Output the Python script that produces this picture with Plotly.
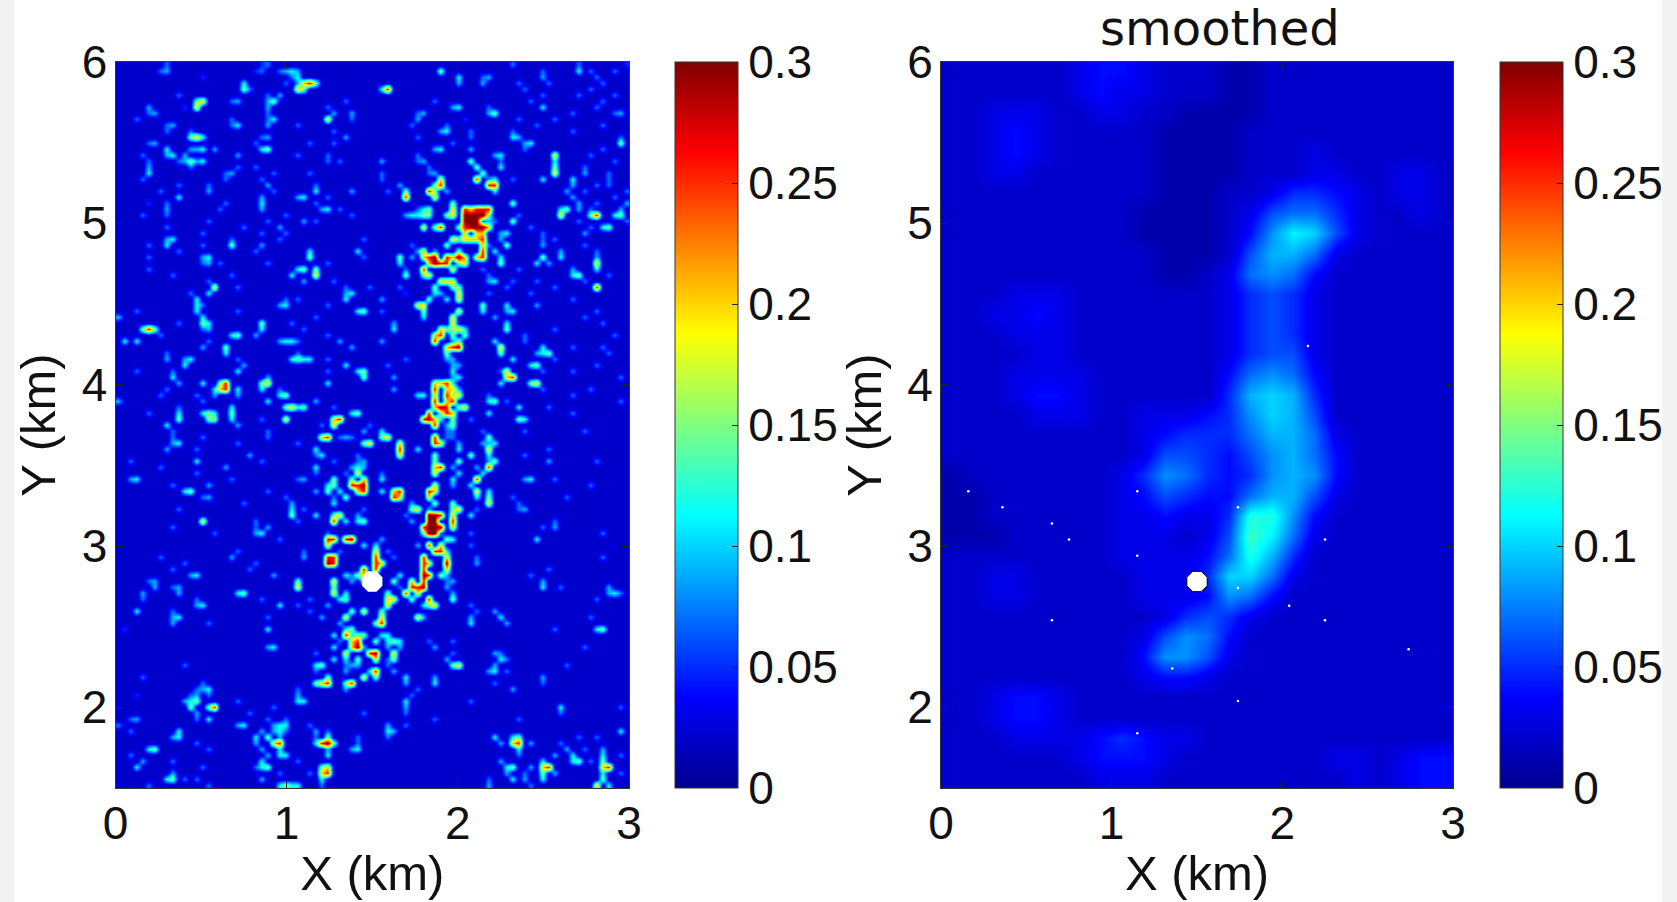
import plotly.graph_objects as go

W, H = 1677, 902
X_TICKS = [0, 1, 2, 3]
Y_TICKS = [2, 3, 4, 5, 6]
CB_TICKS = [0, 0.05, 0.1, 0.15, 0.2, 0.25, 0.3]
CB_LABELS = ["0", "0.05", "0.1", "0.15", "0.2", "0.25", "0.3"]
SOURCE_X = [1.5]
SOURCE_Y = [2.78]
DOTS_X = [.16, .36, .65, .75, 1.15, 1.15, .65, 1.355, 1.74, 1.74, 1.74, 1.15, 2.04, 2.25, 2.25, 2.15, 2.74]
DOTS_Y = [3.34, 3.24, 3.14, 3.04, 3.34, 2.94, 2.54, 2.24, 3.24, 2.74, 2.04, 1.84, 2.63, 3.04, 2.54, 4.24, 2.36]
JET = [[0, "rgb(0,0,143)"], [.125, "rgb(0,0,255)"], [.375, "rgb(0,255,255)"],
       [.625, "rgb(255,255,0)"], [.875, "rgb(255,0,0)"], [1, "rgb(128,0,0)"]]

# Left panel, read by eye: grid of 86 x 121 cells. Each entry is row -> "column:levels",
# the levels (0-9) running rightwards from that column; LEVEL_VALUES gives each level's value.
GRID_COLS, GRID_ROWS = 86, 121
BASE_VALUE = 0.02
LEVEL_VALUES = [0.02, 0.04, 0.05, 0.07, 0.09, 0.115, 0.15, 0.2, 0.26, 0.3]
SPECKS = {
0: "8:3 24:23 66:3 77:3 85:2",
1: "7:34 23:23 27:3454 54:6 71:3 77:5 79:3 83:3",
2: "14:2 29:35 57:5 61:34 71:4 80:3",
3: "21:5 28:3 30:4786 57:4 61:4 67:3 72:3 81:3",
4: "21:63 30:76 44:58 68:3 79:3",
5: "10:3 25:3 27:4 71:3 77:3 83:3",
6: "13:67 19:34 25:46 38:3 53:3 69:3 81:3",
7: "5:4 11:2 13:7 25:4 35:3 56:45 62:3 71:5 80:3",
8: "5:34 25:3 36:4 39:4 50:34 62:46 76:3 83:34",
9: "3:3 19:3 25:35 35:7 39:3 50:4 58:2 67:3 73:3",
10: "8:34 19:35 25:4 30:3 49:3 55:3 70:3 81:3",
11: "8:3 12:3 36:3 54:45 59:3 66:3 76:3",
12: "12:675 24:34 38:4 50:3 59:3 66:54 84:3",
13: "5:34 23:3 32:3 36:3 56:3 68:45 84:6",
14: "8:5 12:445 16:4 24:56 53:45 59:4 68:3 81:3",
15: "4:3 8:45 11:4 20:4 30:3 35:3 50:3 63:45 73:7 79:3",
16: "5:3 10:34 12:645 35:3 37:3 44:4 50:34 59:6 64:3 73:5 83:3",
17: "5:4 12:3 20:3 23:3 52:3 60:6 64:5 73:6 78:3",
18: "5:5 18:34 26:3 32:3 44:3 52:34 61:6 73:7 78:4 82:3",
19: "4:3 18:3 24:3 44:3 54:7 60:8 62:45 66:3 71:5 76:5 82:3",
20: "10:3 15:3 25:4 33:3 47:4 53:68 62:88 76:4 80:3 82:3",
21: "7:3 15:4 26:3 33:5 39:4 45:3 48:6 52:86 55:4 63:5 75:4 78:3 85:3",
22: "10:5 24:4 30:45 35:3 48:8 53:7 76:4 83:3",
23: "5:2 8:3 18:3 24:5 33:3 56:6 66:6 77:4 80:3 85:4",
24: "8:4 17:3 24:4 34:45 37:3 50:3 51:56 56:7 58:8788 62:8 74:56 77:4 79:3 84:4",
25: "4:3 8:3 28:3 39:3 48:45 50:566 55:67 58:9999 62:6 67:3 74:7 79:68 83:56",
26: "15:3 25:3 31:4 33:3 58:9999 61:343 66:6 77:3 85:3",
27: "8:3 21:3 27:4 51:7 53:68 57:68999 62:7 69:3 79:3 81:56",
28: "14:3 24:3 28:3 58:7 60:77 64:45 71:3 78:4",
29: "8:45 19:3 27:3 41:3 56:767 59:77 61:8 64:4 71:3 73:3",
30: "5:3 8:5 14:3 19:6 24:4 49:3 55:6 61:7 62:3 65:6 71:4 78:3",
31: "10:3 23:3 32:5 40:5 50:4 51:7 53:4 57:6 61:8 63:5 74:4 80:3",
32: "5:3 14:45 32:6 41:3 47:6 49:4 51:789 55:879 58:7 60:78 64:5 71:6 74:5 80:4",
33: "14:34 17:3 25:3 35:3 47:5 52:798 55:8 57:67 64:6 70:5 72:4 80:7",
34: "5:3 30:56 33:6 48:3 51:8 56:7 61:3 67:3 76:4 80:5",
35: "9:3 19:3 29:5 33:7 48:6 51:67 62:3 76:56 82:3",
36: "15:3 31:4 36:3 54:777 62:45 66:3 70:3 78:3",
37: "16:7 20:3 38:3 42:3 47:3 53:6 56:66 65:3 73:3 80:8",
38: "12:3 15:5 38:45 48:2 53:54 57:7 62:3 69:3",
39: "13:5 28:3 30:3 38:5 44:4 52:6 55:5 57:7 76:3",
40: "13:5 14:3 27:45 35:3 50:77 61:6 65:5 70:4",
41: "3:3 13:5 20:3 40:56 44:3 51:6 57:7 61:5 65:45 80:3",
42: "0:4 14:5 33:3 51:5 56:7 63:4 78:3",
43: "10:3 14:65 24:6 29:3 46:4 56:7 65:5 81:3",
44: "4:686 14:34 24:5 31:3 46:5 54:76 56:675 65:6 73:3",
45: "7:3 19:56 23:4 35:3 53:78 56:6 58:6 68:3 83:3",
46: "1:5 3:5 15:3 27:4553 37:4 44:4 53:8 56:46 63:5 68:3",
47: "14:4 18:6 39:4 55:789 64:7 71:5 76:3 81:3",
48: "8:3 18:5 30:3 55:6 64:6 70:456 82:3",
49: "8:4 11:45 20:3 29:5655 35:3 48:3 55:44 66:5 73:3",
50: "11:5 21:4 38:5 45:3 56:44 69:56 80:3",
51: "3:3 9:3 20:5 35:3 40:56 56:5 64:3 65:7 71:3 76:3",
52: "9:5 25:4 41:6 46:4 56:45 65:78 84:3",
53: "10:4 14:5 17:68 24:67 35:5 53:778 56:5 64:5 69:67",
54: "8:3 16:578 20:5 24:5 27:3 46:4 53:8 55:77 57:4 71:3 79:3",
55: "7:3 13:3 16:4 20:4 27:56 50:55 53:7 55:867 62:3 76:3",
56: "0:4 14:3 25:5 33:4 53:8 55:78 62:56 65:3 84:3",
57: "10:3 19:5 28:67 30:56 36:3 53:79 55:8 57:67 67:5 72:3",
58: "5:3 10:5 14:565 19:6 39:56 52:8 54:68 56:7 62:5 76:3",
59: "10:6 15:66 19:5 24:3 28:7 36:78 51:89 53:75 56:6 59:3 67:65",
60: "8:5 20:4 34:3 36:7 42:3 53:8 55:46",
61: "9:3 25:3 41:4 44:5 55:33 61:3 68:3 78:3",
62: "9:3 14:3 25:3 34:78 37:343 44:67 53:8 55:33 62:6",
63: "9:45 20:3 30:3 41:67 47:7 53:87 57:4 61:4 62:45",
64: "8:4 13:3 33:5 47:8 50:5 57:5 62:7 72:3",
65: "22:4 33:35 40:3 47:7 53:6 59:6 62:5 68:3",
66: "2:3 13:5 24:3 36:3 40:34 53:6 57:6 62:46 72:4 80:3",
67: "7:3 18:4 33:5 39:45 41:4 53:78 56:4 60:4 62:8",
68: "13:3 33:3 38:3 40:7 44:3 53:7 57:5 61:5",
69: "2:45 19:3 30:34 36:6 39:6 41:7 44:5 56:5 60:8 68:45 73:3",
70: "9:3 15:4 35:56 39:889 53:7 56:4 59:5 79:3",
71: "11:56 25:3 33:4 35:6 37:5 40:78 44:5 46:78 52:87 60:7 62:5",
72: "14:34 28:3 36:3 38:6 46:87 52:7 60:5 62:6 66:3 75:3",
73: "21:3 29:4 36:5 49:4 53:6 56:6 62:7 67:3",
74: "10:3 29:5 31:3 41:3 49:67 52:4 56:67 60:3 67:34",
75: "29:6 33:5 36:67 40:4 48:3 52:998 56:7 59:5",
76: "14:7 23:3 30:3 36:8 38:5 40:56 49:4 52:99 56:8 73:3",
77: "9:3 23:3 25:4 51:8999 56:7 71:3 73:4",
78: "16:3 23:45 35:3 51:699 54:3 59:3 81:3",
79: "27:3 35:88 38:89 44:4 55:6 56:5 70:5",
80: "35:7 41:5 43:5 50:4 52:8 54:7 59:3",
81: "20:3 31:3 37:3 43:7 45:3 53:885",
82: "7:3 19:4 31:4 35:88 43:8 46:3 51:8 55:7 60:3 81:3",
83: "11:3 23:3 35:98 43:87 51:87 55:9 60:4",
84: "9:3 22:3 41:8 43:8 51:8 55:7 72:3",
85: "12:45 26:4 38:53 40:67 47:5 51:98 54:64 69:3",
86: "5:34 30:6 36:7 39:4 41:67 46:6 49:7 51:8 55:34 71:4",
87: "6:4 9:34 30:7 36:6 47:3 49:889 55:4 71:5 74:3 82:4",
88: "4:4 10:4 20:56 36:7 38:5 45:6 48:8 50:7 56:4 82:45 84:3",
89: "4:3 13:3 24:3 32:3 37:56 45:77 49:6 52:8 56:6 80:3",
90: "13:45 27:5 30:3 35:4 45:7 51:567 59:3",
91: "3:5 9:3 32:3 39:6 41:7 44:6 60:3 63:4",
92: "9:45 25:3 34:4 38:7 44:7 50:74 59:4 64:5 79:3",
93: "9:4 15:3 37:4 43:68 59:5 65:4",
94: "1:2 25:5 38:56 73:3 80:56",
95: "36:5 38:856 41:6 44:55",
96: "37:3 39:78 43:6 45:565 52:3 56:3",
97: "25:45 36:5 39:79 41:4 45:4 47:4 53:4 78:3",
98: "33:3 38:7 42:8 43:9 46:7 56:3 63:4 64:3",
99: "36:5 38:5 40:6 43:7 45:36 55:4 64:5 65:3",
100: "11:3 33:56 38:34 40:4 45:3 56:67 63:4 75:3",
101: "33:3 38:4 42:58 46:4 62:45 65:3",
102: "4:3 35:6 41:7 43:6 48:5 53:4 71:4",
103: "14:3 33:678 38:68 48:4 53:5 63:3 71:3",
104: "13:345 30:3 38:4 50:3 66:4",
105: "3:2 12:34 15:3 30:4 49:3",
106: "11:456 20:3 30:55 48:5 59:3",
107: "12:6 15:68 26:3 48:4 74:5 84:3",
108: "13:4 22:3 41:3 48:3 74:3",
109: "2:34 13:3 15:5 25:3 28:3 53:3 67:3",
110: "0:3 20:45 26:455 32:3 45:4 48:3",
111: "2:3 10:5 24:4 26:45 28:3 33:4 35:3 45:54 84:5",
112: "9:45 23:5 25:6 27:4 33:3 35:6 40:3 45:3 63:5 66:56 77:3 80:3",
113: "13:3 23:4 26:78 33:589 36:6 40:3 64:4 66:78 69:4 74:3",
114: "5:56 15:3 24:4 27:5 35:4 39:45 67:5 75:4 78:3 81:4",
115: "2:3 25:4 27:55 35:5 67:3 73:4 76:5 81:5 84:3",
116: "4:4 9:3 24:5 30:3 64:4 71:5 76:56 79:3 81:6",
117: "3:5 14:3 23:356 34:67 65:56 69:4 71:78 81:78",
118: "9:4 27:3 32:3 34:78 65:4 68:3 71:6 73:4 81:5 84:3",
119: "8:56 11:3 13:3 24:4 34:5 62:3 66:5 68:4 71:5 81:6",
120: "5:3 15:3 27:5655 34:3 62:4 69:3 80:7 82:5",
}

# Right panel: estimated value in hundredths per cell, top row first, 24 columns
SMOOTH_ROWS = [
[2,2,2,2,2,2,3,4,4,3,2,2,2,1,1,2,2,2,2,2,2,2,2,2],
[2,2,2,2,2,2,3,4,3,3,2,2,2,1,1,2,2,2,2,2,2,2,2,2],
[2,2,3,3,3,2,2,3,3,2,2,1,1,1,1,2,2,2,2,2,2,2,2,2],
[2,2,3,4,3,2,2,2,2,2,1,1,1,1,2,2,2,2,2,2,2,2,2,2],
[2,2,3,4,3,2,2,2,2,2,1,1,1,1,2,2,2,3,2,2,2,2,2,2],
[2,2,3,3,2,2,2,2,2,2,1,1,1,1,2,2,2,3,3,2,2,3,3,2],
[2,2,2,2,2,2,2,2,2,2,1,1,1,2,2,3,5,5,4,3,2,3,3,2],
[2,2,2,2,2,2,2,2,2,1,1,1,1,2,3,6,7,7,5,3,2,2,3,2],
[2,2,2,2,2,2,2,2,2,1,1,1,1,2,4,8,11,10,6,3,2,2,2,2],
[2,2,2,2,2,2,2,2,2,2,1,1,1,2,6,9,9,7,3,2,2,2,2,2],
[2,2,2,2,2,2,2,2,2,2,1,1,2,3,7,8,7,4,2,2,2,2,2,2],
[2,2,2,3,3,3,2,2,2,2,2,2,2,3,5,6,5,3,2,2,2,2,2,2],
[2,2,3,3,4,3,2,2,2,2,2,2,2,3,5,6,5,3,2,2,2,2,2,2],
[2,2,2,3,3,3,2,2,2,2,2,2,2,3,5,6,5,3,2,2,2,2,2,2],
[2,2,2,2,3,3,2,2,2,2,2,2,2,3,5,6,6,3,2,2,2,2,2,2],
[2,2,2,3,3,3,3,2,2,2,2,2,2,4,7,8,7,4,2,2,2,2,2,2],
[2,2,2,3,4,4,3,2,2,2,2,2,2,5,9,10,9,5,2,2,2,2,2,2],
[2,2,2,2,3,3,3,2,2,3,3,3,4,5,8,10,9,6,2,2,2,2,2,2],
[2,2,2,2,2,2,2,2,2,3,4,5,5,5,7,9,9,7,3,2,2,2,2,2],
[2,2,2,2,2,2,2,2,2,3,6,6,5,4,6,8,9,7,4,2,2,2,2,2],
[1,2,2,2,2,2,2,2,3,5,8,7,5,4,5,8,9,8,4,2,2,2,2,2],
[1,1,2,2,2,2,2,2,3,4,6,5,4,4,7,9,9,6,3,2,2,2,2,2],
[1,1,2,2,2,2,2,2,3,3,4,3,3,5,12,12,8,4,2,2,2,2,2,2],
[1,1,1,2,2,2,2,2,3,3,3,2,3,6,13,11,7,3,2,2,2,2,2,2],
[2,2,2,2,2,2,2,2,3,3,3,3,4,7,12,9,5,2,2,2,2,2,2,2],
[2,2,3,3,2,2,2,2,2,3,3,3,5,10,10,7,3,2,2,2,2,2,2,2],
[2,2,3,3,2,2,2,2,2,3,3,3,4,8,7,4,2,2,2,2,2,2,2,2],
[2,2,2,2,2,2,2,2,2,2,3,5,6,5,3,2,2,2,2,2,2,2,2,2],
[2,2,2,2,2,2,2,2,2,3,6,8,7,4,2,2,2,2,2,2,2,2,2,2],
[2,2,2,2,2,2,2,2,2,4,8,8,6,3,2,2,2,2,2,2,2,2,2,2],
[2,2,2,2,2,2,2,2,2,3,4,4,3,2,2,2,2,2,2,2,2,2,2,2],
[2,2,3,4,4,3,2,2,2,2,2,2,2,2,2,2,2,2,2,2,2,2,2,2],
[2,2,3,4,4,3,2,2,2,2,2,2,2,2,2,2,2,2,2,2,2,2,2,2],
[2,2,2,3,3,3,3,4,5,4,3,3,2,2,2,2,2,2,2,2,2,2,2,2],
[2,2,2,2,2,2,3,4,4,4,3,2,2,2,2,2,2,2,3,3,2,3,4,4],
[2,2,2,2,2,2,2,3,3,3,2,2,2,2,2,2,2,2,2,3,2,3,4,4],
]

z_left = [[BASE_VALUE] * GRID_COLS for _ in range(GRID_ROWS)]
for row, entry in SPECKS.items():
    for token in entry.split():
        col, levels = token.split(":")
        for k, ch in enumerate(levels):
            z_left[row][int(col) + k] = LEVEL_VALUES[int(ch)]
x_left = [(i + .5) * 3 / GRID_COLS for i in range(GRID_COLS)]
y_left = [6 - (j + .5) * 4.5 / GRID_ROWS for j in range(GRID_ROWS)]

z_right = [[v / 100 for v in r] for r in SMOOTH_ROWS]
n_r, m_r = len(z_right), len(z_right[0])
x_right = [(i + .5) * 3 / m_r for i in range(m_r)]
y_right = [6 - (j + .5) * 4.5 / n_r for j in range(n_r)]

FONT = "Liberation Sans, Arial, sans-serif"
TICK_FONT = dict(family=FONT, size=46, color="#111")
TOP, BOTTOM = 62, 788
LEFT_DOM = (115.5, 629)
RIGHT_DOM = (941, 1453)
CB_L = 675
CB_R = 1500
CB_TH = 63


def colorbar(x_px):
    return dict(
        x=x_px / W, xanchor="left", xref="paper", y=1 - BOTTOM / H, yanchor="bottom", yref="paper",
        len=(BOTTOM - TOP) / H, lenmode="fraction", thickness=CB_TH, thicknessmode="pixels",
        xpad=0, ypad=0, tickvals=CB_TICKS, ticktext=CB_LABELS, ticks="inside", ticklen=6,
        tickcolor="#222", tickfont=TICK_FONT, outlinecolor="#333", outlinewidth=1,
    )


fig = go.Figure()
fig.add_trace(go.Heatmap(x=x_left, y=y_left, z=z_left, zmin=0, zmax=.3, colorscale=JET, zsmooth="best",
                         colorbar=colorbar(CB_L), xaxis="x", yaxis="y", hoverinfo="skip"))
fig.add_trace(go.Heatmap(x=x_right, y=y_right, z=z_right, zmin=0, zmax=.3, colorscale=JET, zsmooth="best",
                         colorbar=colorbar(CB_R), xaxis="x2", yaxis="y2", hoverinfo="skip"))
fig.add_trace(go.Scatter(x=SOURCE_X, y=SOURCE_Y, mode="markers", xaxis="x", yaxis="y", showlegend=False,
                         marker=dict(symbol="octagon", size=22, color="white", line=dict(width=0))))
fig.add_trace(go.Scatter(x=DOTS_X, y=DOTS_Y, mode="markers", xaxis="x2", yaxis="y2", showlegend=False,
                         marker=dict(size=2.5, color="white", line=dict(width=0))))
fig.add_trace(go.Scatter(x=SOURCE_X, y=SOURCE_Y, mode="markers", xaxis="x2", yaxis="y2", showlegend=False,
                         marker=dict(symbol="octagon", size=22, color="white", line=dict(width=1, color="black"))))


def xa(dom, anchor):
    return dict(domain=[dom[0] / W, dom[1] / W], range=[0, 3], tickvals=X_TICKS, ticks="inside", ticklen=7,
                tickcolor="#222", mirror="ticks", showline=True, linecolor="#333", linewidth=1, showgrid=False,
                zeroline=False, tickfont=TICK_FONT, anchor=anchor, ticklabelstandoff=-5,
                title=dict(text="X (km)", font=dict(family=FONT, size=49, color="#111"), standoff=7))


def ya(dom, anchor):
    return dict(domain=[1 - BOTTOM / H, 1 - TOP / H], range=[1.5, 6], tickvals=Y_TICKS, ticks="inside", ticklen=7,
                tickcolor="#222", mirror="ticks", showline=True, linecolor="#333", linewidth=1, showgrid=False,
                zeroline=False, tickfont=TICK_FONT, anchor=anchor, ticklabelstandoff=-2,
                title=dict(text="Y (km)", font=dict(family=FONT, size=49, color="#111"), standoff=10))


fig.update_layout(
    width=W, height=H, margin=dict(l=0, r=0, t=0, b=0, autoexpand=False), paper_bgcolor="white",
    plot_bgcolor="white", showlegend=False,
    xaxis=xa(LEFT_DOM, "y"), yaxis=ya(LEFT_DOM, "x"),
    xaxis2=xa(RIGHT_DOM, "y2"), yaxis2=ya(RIGHT_DOM, "x2"),
    shapes=[dict(type="rect", xref="paper", yref="paper", x0=0, x1=14 / W, y0=0, y1=1, fillcolor="#f3f3f3",
                 line=dict(width=0), layer="below"),
            dict(type="rect", xref="paper", yref="paper", x0=1662 / W, x1=1, y0=0, y1=1, fillcolor="#f3f3f3",
                 line=dict(width=0), layer="below")],
    annotations=[dict(text="smoothed", xref="paper", yref="paper", x=1220 / W, y=1 - 28 / H, showarrow=False,
                      xanchor="center", yanchor="middle",
                      font=dict(family="DejaVu Sans", size=48, color="#111"))],
)
fig.write_html("out.html", config={"displayModeBar": False}, post_script="document.body.style.margin='0';")
